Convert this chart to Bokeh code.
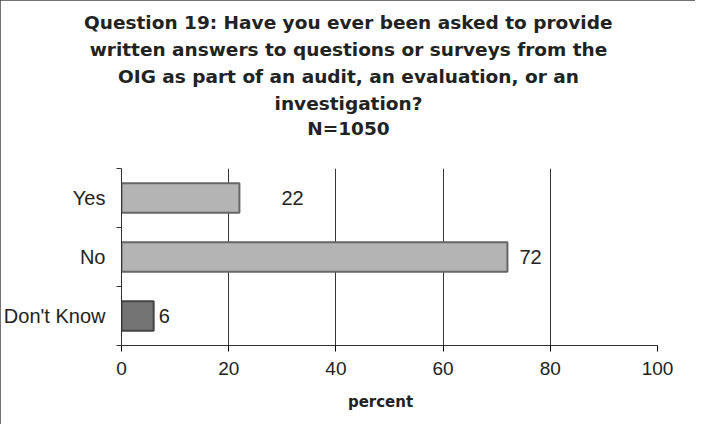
from bokeh.plotting import figure
from bokeh.models import FixedTicker, Title, ColumnDataSource, Range1d
from bokeh.core.properties import value
from bokeh.embed import file_html
from bokeh.resources import INLINE

categories = ["Yes", "No", "Don't Know"]
percents = [22, 72, 6]
x_ticks = [0, 20, 40, 60, 80, 100]
x_label = "percent"
title_lines = [
    "Question 19:   Have you ever been asked to provide",
    "written answers to questions or surveys from the",
    "OIG as part of an audit, an evaluation, or an",
    "investigation?",
    "N=1050",
]

# DejaVu Sans Bold advance widths (em), used only to centre title lines
_W = {" ": .348, ",": .380, ":": .400, "=": .838, "?": .580, "G": .821, "H": .837,
      "I": .372, "N": .837, "O": .850, "Q": .850, "a": .675, "b": .716, "c": .593,
      "d": .716, "e": .678, "f": .435, "g": .716, "h": .712, "i": .343, "k": .665,
      "l": .343, "m": 1.042, "n": .712, "o": .687, "p": .716, "q": .716, "r": .493,
      "s": .595, "t": .478, "u": .712, "v": .652, "w": .924, "y": .652}


def text_width(s, size):
    s = " ".join(s.split())
    return sum(_W.get(c, .696) for c in s) * size


n = len(categories)
ypos = [n - i - 0.5 for i in range(n)]
fills = ["#b4b4b4", "#b4b4b4", "#747474"]
lines = ["#666666", "#666666", "#444444"]
label_offsets = [42, 12, 5]

src = ColumnDataSource(dict(y=ypos, v=percents, fill=fills, line=lines,
                            lab=[str(v) for v in percents], off=label_offsets))

FONT = "Liberation Sans"
TFONT = "DejaVu Sans"
W, H = 695, 424
ML, MR, MT, MB = 121, 38, 168, 79
p = figure(width=W, height=H, output_backend="svg", toolbar_location=None,
           x_range=Range1d(0, 100), y_range=Range1d(0, n),
           min_border_left=ML, min_border_right=MR, min_border_top=MT, min_border_bottom=MB)
p.title = None

TSIZE = 18.5
CENTER = 227  # title centre, px right of the frame's left edge
# spacer between the frame and the title block
p.add_layout(Title(text=" ", text_font=TFONT, text_font_size=f"{TSIZE}px", standoff=7), "above")
for i, t in enumerate(reversed(title_lines)):
    off = CENTER - text_width(t, TSIZE) / 2
    p.add_layout(Title(text=t, align="left", offset=off, text_font=TFONT,
                       text_font_size=f"{TSIZE}px", text_font_style="bold",
                       text_color="#222222", standoff=(0 if i == 0 else 4)), "above")

p.hbar(y="y", right="v", left=0, height=0.5, source=src, fill_color="fill",
       line_color="line", line_width=2)
p.text(x="v", y="y", text="lab", x_offset="off", source=src, text_baseline="middle",
       text_align="left", text_font=value(FONT), text_font_size="20px", text_color="#222222")

p.xaxis.ticker = FixedTicker(ticks=x_ticks)
p.xaxis.major_label_text_font = FONT
p.xaxis.major_label_text_font_size = "19px"
p.xaxis.major_label_text_color = "#222222"
p.xaxis.major_label_standoff = 10
p.xaxis.major_tick_in = 0
p.xaxis.major_tick_out = 6
p.xaxis.minor_tick_line_color = None
p.xaxis.axis_line_color = "#333333"
XL_SIZE = 15
p.add_layout(Title(text=x_label, align="left", offset=259 - text_width(x_label, XL_SIZE) / 2,
                   text_font=TFONT, text_font_size=f"{XL_SIZE}px", text_font_style="bold",
                   text_color="#222222", standoff=26), "below")

p.yaxis.ticker = FixedTicker(ticks=ypos, minor_ticks=list(range(n + 1)))
p.yaxis.major_label_overrides = {y: c for y, c in zip(ypos, categories)}
p.yaxis.major_tick_line_color = None
p.yaxis.minor_tick_in = 0
p.yaxis.minor_tick_out = 5
p.yaxis.minor_tick_line_color = "#333333"
p.yaxis.major_label_text_font = FONT
p.yaxis.major_label_text_font_size = "20px"
p.yaxis.major_label_text_color = "#222222"
p.yaxis.major_label_standoff = 10
p.yaxis.axis_line_color = "#333333"

p.xgrid.ticker = FixedTicker(ticks=x_ticks)
p.xgrid.grid_line_color = "#333333"
p.xgrid.grid_line_alpha = 1
p.ygrid.grid_line_color = None
p.outline_line_color = None
p.styles = {"outline": "1px solid #444444", "outline-offset": "-1px"}

open("out.html", "w").write(file_html(p, INLINE))
